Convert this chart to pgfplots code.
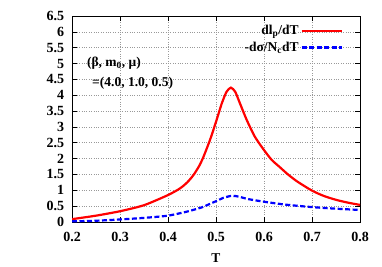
\documentclass[border=0pt]{standalone}
\usepackage{fontspec}
\setmainfont{Liberation Serif}
\usepackage{pgfplots}
\pgfplotsset{compat=1.18}
\begin{document}
\begin{tikzpicture}
\useasboundingbox (-72pt,-45pt) rectangle (310pt,222pt);
\begin{axis}[
  at={(0,0)}, anchor=south west,
  scale only axis, width=288pt, height=206pt,
  xmin=0.2, xmax=0.8, ymin=0, ymax=6.5,
  xtick={0.2,0.3,0.4,0.5,0.6,0.7,0.8},
  ytick={0,0.5,1,1.5,2,2.5,3,3.5,4,4.5,5,5.5,6,6.5},
  /pgf/number format/assume math mode=true,
  font=\fontsize{13.5}{15}\selectfont\bfseries,
  ticklabel style={font=\fontsize{14}{16}\selectfont\bfseries},
  yticklabel style={xshift=-4.3pt},
  xticklabel style={yshift=-6.6pt},
  tick align=inside, major tick length=5pt,
  axis line style={line width=0.9pt},
  every tick/.style={black, line width=0.6pt},
  grid=major,
  major grid style={dotted, gray!80, line width=0.6pt},
  xlabel={T},
  xlabel style={at={(axis description cs:0.5,0)}, anchor=center, yshift=-36pt},
  legend plot pos=right,
  legend cell align=right,
  legend style={at={(rel axis cs:1,1)}, anchor=north east, xshift=-17pt, yshift=-7pt,
    draw=none, fill=none, inner sep=0pt, row sep=2pt,
    font=\fontsize{13.5}{15}\selectfont\bfseries},
  legend image code/.code={\draw[#1] (0pt,0pt) -- (40pt,0pt);},
]
\addplot[red, line width=2.2pt, smooth, tension=0.4] coordinates {
(0.20,0.09) (0.25,0.20) (0.30,0.34) (0.35,0.53) (0.40,0.85) (0.425,1.06)
(0.44,1.25) (0.453,1.48) (0.465,1.77) (0.474,2.06) (0.4875,2.59) (0.50,3.16)
(0.512,3.74) (0.522,4.11) (0.531,4.24) (0.540,4.11) (0.55,3.74) (0.564,3.22)
(0.581,2.69) (0.60,2.27) (0.616,1.96) (0.633,1.73) (0.65,1.50) (0.67,1.27)
(0.70,0.99) (0.725,0.82) (0.75,0.70) (0.775,0.61) (0.80,0.54)
};
\addlegendentry{dl\textsubscript{p}/dT}
\addplot[blue, line width=2.2pt, dash pattern=on 5pt off 2.5pt, smooth, tension=0.4] coordinates {
(0.20,0.02) (0.25,0.04) (0.30,0.08) (0.35,0.13) (0.40,0.20) (0.44,0.33)
(0.47,0.46) (0.49,0.59) (0.505,0.69) (0.515,0.76) (0.53,0.82) (0.54,0.82)
(0.55,0.79) (0.568,0.72) (0.60,0.64) (0.633,0.57) (0.65,0.54) (0.70,0.47)
(0.75,0.42) (0.80,0.38)
};
\addlegendentry{-dσ/N\textsubscript{c}dT}
\node[anchor=west, inner sep=0pt] at (axis cs:0.231,5.02) {(β, m\textsubscript{0}, μ)};
\node[anchor=west, inner sep=0pt] at (axis cs:0.2417,4.38) {=(4.0, 1.0, 0.5)};
\end{axis}
\end{tikzpicture}
\end{document}
